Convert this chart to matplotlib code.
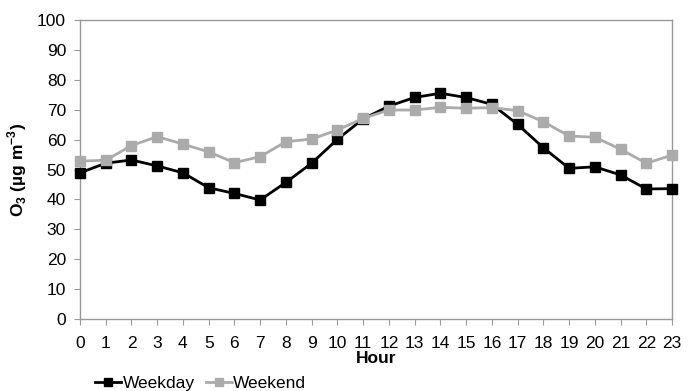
import matplotlib
matplotlib.use("Agg")
import matplotlib.pyplot as plt
import numpy as np

plt.rcParams['font.family'] = ['Liberation Sans', 'DejaVu Sans']
plt.rcParams['mathtext.fontset'] = 'custom'
plt.rcParams['mathtext.rm'] = 'Liberation Sans:bold'
plt.rcParams['mathtext.bf'] = 'Liberation Sans:bold'

hours = np.arange(24)
weekday = [48.9, 52.1, 53.2, 51.2, 48.9, 43.9, 42.0, 39.8, 45.7, 52.1, 60.1, 66.9,
           71.2, 74.1, 75.5, 74.1, 71.8, 65.1, 57.3, 50.4, 50.9, 48.2, 43.5, 43.6]
weekend = [52.8, 53.1, 58.0, 61.0, 58.5, 55.9, 52.3, 54.3, 59.3, 60.2, 63.2, 67.1,
           69.9, 69.9, 70.8, 70.5, 70.7, 69.7, 66.0, 61.2, 60.8, 56.8, 52.1, 54.8]

fs = 12.5

fig = plt.figure(figsize=(6.99, 3.91), dpi=100)
ax = fig.add_axes([0.1144, 0.1841, 0.8470, 0.7647])

ax.plot(hours, weekday, color='black', lw=2.0, marker='s', ms=6.5, label='Weekday',
        clip_on=False, zorder=3)
ax.plot(hours, weekend, color='#ababab', lw=2.0, marker='s', ms=6.5, label='Weekend',
        clip_on=False, zorder=4)

ax.set_xlim(0, 23)
ax.set_ylim(0, 100)
ax.set_xticks(hours)
ax.set_yticks(np.arange(0, 101, 10))
for s in ax.spines.values():
    s.set_color('#999999')
    s.set_linewidth(1.0)
ax.tick_params(axis='both', colors='#999999', labelcolor='black', labelsize=fs,
               length=4, direction='out')
ax.tick_params(axis='x', pad=8)
ax.tick_params(axis='y', pad=6)

ax.set_xlabel('Hour', fontsize=fs, fontweight='bold', labelpad=0)
ax.set_ylabel(r'O$_3$ (µg m$^{-3}$)', fontsize=fs, fontweight='bold', labelpad=6)

leg = fig.legend(loc='lower left', bbox_to_anchor=(0.114, -0.04), ncol=2, frameon=False,
                 fontsize=fs, handlelength=1.5, handletextpad=0.1, columnspacing=0.6,
                 markerscale=0.8)

fig.savefig('out.png', dpi=100)
